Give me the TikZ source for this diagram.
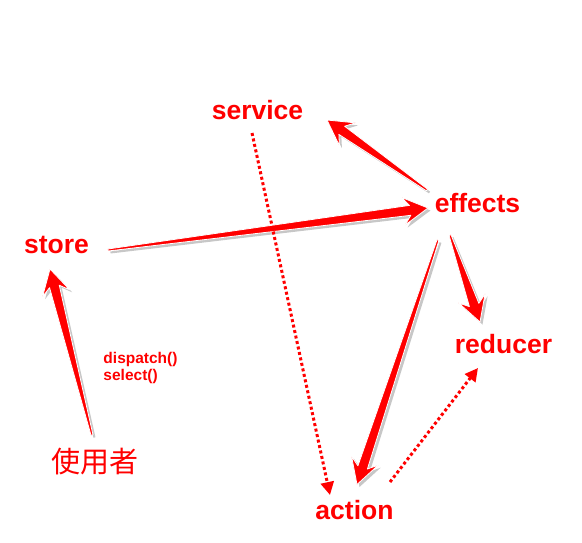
\documentclass[tikz,border=0pt]{standalone}
\usepackage{fontspec}
\setmainfont{Liberation Sans}
\newfontfamily\cjk{Noto Sans CJK SC}
\usetikzlibrary{calc,arrows.meta}

% tapered arrow from #1 to #2
\newcommand{\fatarrow}[2]{%
  \coordinate (fa-j) at ($(#2)!18pt!(#1)$);
  \coordinate (fa-b) at ($(#2)!25pt!(#1)$);
  \def\fapath{($(#1)!1pt!90:(#2)$) -- ($(fa-j)!5pt!90:(#2)$) -- ($(fa-b)!14pt!90:(#2)$) -- (#2)
    -- ($(fa-b)!14pt!-90:(#2)$) -- ($(fa-j)!5pt!-90:(#2)$) -- ($(#1)!1pt!-90:(#2)$) -- cycle}
  \begin{scope}[transform canvas={shift={(2.5pt,-2.5pt)}}]
    \fill[arrow shadow] \fapath;
  \end{scope}
  \filldraw[fat arrow] \fapath;
}

\begin{document}
\begin{tikzpicture}[x=1pt,y=-1pt,
    label node/.style={inner sep=0pt,text=red,font=\fontsize{26.5}{30}\selectfont\bfseries},
    fat arrow/.style={fill=red,draw=white,line width=0.8pt,line join=round},
    arrow shadow/.style={fill=black,opacity=0.22},
    dot line/.style={red,line width=3pt,dash pattern=on 3pt off 2.6pt,
        -{Triangle[length=13pt,width=13pt]}}]

    \fill[white] (0,0) rectangle (582,542);
    \useasboundingbox (0,0) rectangle (582,542);

    \node[label node] (service) at (257.5,110) {service};
    \node[label node] (store) at (56.5,244.5) {store};
    \node[label node] (effects) at (477.5,203) {effects};
    \node[label node] (reducer) at (503.5,344) {reducer};
    \node[label node] (action) at (354.5,510.5) {action};
    \node[inner sep=0pt,text=red,font=\cjk\fontsize{29}{32}\selectfont] (user) at (95.5,462) {使用者};
    \node[inner sep=0pt,text=red,align=left,font=\fontsize{15.5}{17}\selectfont\bfseries] (calls) at (140.5,368)
        {dispatch()\\select()};

    % end points beside the labels
    \coordinate (store-out) at ($(store)+(51.5,5.5)$);
    \coordinate (effects-in) at ($(effects)+(-49.5,5)$);
    \coordinate (effects-up) at ($(effects)+(-50.5,-13)$);
    \coordinate (service-in) at ($(service)+(69.5,10)$);
    \coordinate (effects-down) at ($(effects)+(-27.5,32)$);
    \coordinate (reducer-in) at ($(reducer)+(-23.5,-22)$);
    \coordinate (effects-low) at ($(effects)+(-39.5,37)$);
    \coordinate (action-in) at ($(action)+(2.5,-26)$);
    \coordinate (user-out) at ($(user)+(-3.5,-27)$);
    \coordinate (store-in) at ($(store)+(-6.5,24.5)$);
    \coordinate (service-out) at ($(service)+(-5.5,23)$);
    \coordinate (action-dot) at ($(action)+(-24.5,-15.5)$);
    \coordinate (action-out) at ($(action)+(35.5,-28.5)$);
    \coordinate (reducer-dot) at ($(reducer)+(-25.5,24)$);

    \fatarrow{store-out}{effects-in}
    \fatarrow{effects-up}{service-in}
    \fatarrow{effects-down}{reducer-in}
    \fatarrow{effects-low}{action-in}
    \fatarrow{user-out}{store-in}

    \draw[dot line] (service-out) -- (action-dot);
    \draw[dot line] (action-out) -- (reducer-dot);

\end{tikzpicture}
\end{document}
